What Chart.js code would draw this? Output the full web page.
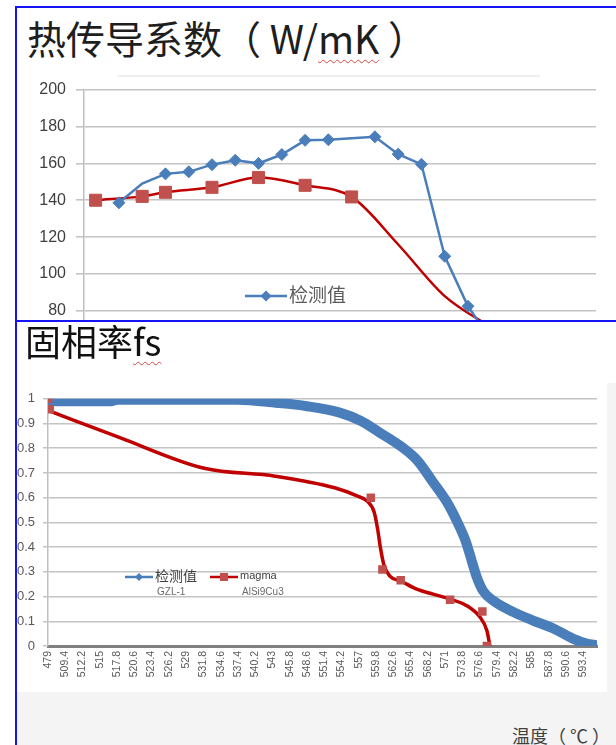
<!DOCTYPE html>
<html>
<head>
<meta charset="utf-8">
<script src="https://cdn.jsdelivr.net/npm/chart.js@4.4.1/dist/chart.umd.min.js"></script>
<style>
  body { margin: 0; width: 616px; height: 745px; position: relative; overflow: hidden; background: #fff;
         font-family: "Noto Sans CJK SC", "Liberation Sans", sans-serif; }
  .abs { position: absolute; }
  .rule { position: absolute; background: #1414f5; z-index: 10; }
  .sq { text-decoration: underline wavy #d84848; text-decoration-thickness: 1px; text-underline-offset: 5px; }
  #topClip { left: 0; top: 0; width: 616px; height: 320px; overflow: hidden; }
  #kChart { left: 18px; top: 70px; }
  #title1 { left: 27px; top: 17px; font-size: 39px; line-height: 40px; color: #1e1e1e; white-space: pre; }
  #edge1 { left: 118px; top: 75px; width: 422px; height: 2px; background: #efefef; }
  #panel2 { left: 0; top: 320px; width: 616px; height: 425px; background: #fff; }
  #shade { left: 17px; top: 383px; width: 599px; height: 362px; background: #f4f4f4; }
  #plotBg { left: 17px; top: 383px; width: 590px; height: 309px; background: #fff; }
  #fsChart { left: 11px; top: 383px; }
  #title2 { left: 25px; top: 321px; font-size: 36px; line-height: 38px; color: #111; white-space: nowrap; }
  #xTitle { left: 512px; top: 725px; font-size: 18px; line-height: 20px; color: #404040; white-space: pre; }
</style>
</head>
<body>
<div id="topClip" class="abs">
  <div id="title1" class="abs">热传导系数（ W/<span class="sq">mK</span> ）</div>
  <div id="edge1" class="abs"></div>
  <canvas id="kChart" class="abs" width="598" height="408"></canvas>
</div>
<div id="panel2" class="abs"></div>
<div id="shade" class="abs"></div>
<div id="plotBg" class="abs"></div>
<canvas id="fsChart" class="abs" width="605" height="309"></canvas>
<div id="title2" class="abs">固相率<span class="sq">fs</span></div>
<div id="xTitle" class="abs">温度（ ℃ ）</div>

<div class="rule" style="left:15px;top:6px;width:601px;height:2px"></div>
<div class="rule" style="left:15px;top:320px;width:601px;height:2px"></div>
<div class="rule" style="left:15px;top:6px;width:2px;height:739px"></div>

<script>
const BLUE = '#4a7ebb';
const RED_LINE = '#c00000';
const RED_MARK = '#c0504d';

// thermal conductivity, W/mK (22 categories, lower part cut off by the panel below)
const kLabels = ['1','2','3','4','5','6','7','8','9','10','11','12','13','14','15','16','17','18','19','20','21','22'];
const kMeasured = [null, 138.6, 149, 154.3, 155.4, 159.3, 161.7, 160, 164.8, 172.5, 172.8, null,
                   174.4, 165, 159.5, 109.6, 82.5, 64, null, null, null, null];
const kMagma = [140, null, 142.1, 144.3, null, 147, null, 152.3, null, 148.1, null, 141.8,
                null, 116, null, 88, null, 71, null, null, null, null];
const kMeasuredNoMarker = [2, 17];
const kMagmaNoMarker = [13, 15, 17];

// solid fraction fs vs temperature; x is the position along the tick labels
const fsTicks = ['479','509.4','512.2','515','517.8','520.6','523.4','526.2','529','531.8','534.6','537.4',
                 '540.2','543','545.8','548.6','551.4','554.2','557','559.8','562.6','565.4','568.2','571',
                 '573.8','576.6','579.4','582.2','585','587.8','590.6','593.4'];
const fsMeasuredX = [0, 3.7, 4.0, 11, 13.2, 15, 16.9, 18.1, 19.2, 20.4, 21.4, 22.3, 23.1, 23.7, 24.2,
                     24.55, 24.85, 25.2, 25.8, 27, 28.1, 29.3, 30.4, 31.2, 31.8];
const fsMeasuredY = [0.99, 0.99, 0.996, 0.996, 0.984, 0.97, 0.944, 0.911, 0.864, 0.81, 0.75, 0.663, 0.583,
                     0.503, 0.423, 0.343, 0.276, 0.223, 0.183, 0.136, 0.103, 0.07, 0.03, 0.01, 0.003];
const fsMagmaX = [0, 4.05, 9.05, 13.15, 16.6, 17.9, 18.5, 18.9, 19.1, 19.25, 19.45, 19.8, 20.43, 21.36,
                  22.3, 23.29, 24.26, 25.03, 25.42, 25.6];
const fsMagmaY = [0.953, 0.846, 0.719, 0.687, 0.64, 0.607, 0.585, 0.54, 0.47, 0.40, 0.33, 0.283, 0.263,
                  0.23, 0.21, 0.19, 0.163, 0.116, 0.063, 0.0];
const fsMagmaMarkX = [0, 0.1, 18.7, 19.37, 20.43, 23.29, 25.16, 25.42];
const fsMagmaMarkY = [1.0, 0.958, 0.60, 0.309, 0.266, 0.187, 0.14, 0.0];

const xy = (xs, ys) => xs.map((x, i) => ({ x, y: ys[i] }));

function marker(ctx, shape, x, y, r) {
  ctx.beginPath();
  if (shape === 'diamond') {
    ctx.moveTo(x, y - r); ctx.lineTo(x + r, y); ctx.lineTo(x, y + r); ctx.lineTo(x - r, y);
    ctx.closePath();
  } else {
    ctx.rect(x - r, y - r, 2 * r, 2 * r);
  }
  ctx.fill();
}

// legend drawn inside the plot, entries placed by hand
const inlineLegend = {
  id: 'inlineLegend',
  afterDraw(chart, args, opts) {
    const ctx = chart.ctx;
    (opts.items || []).forEach(it => {
      ctx.save();
      ctx.strokeStyle = it.line;
      ctx.lineWidth = it.width;
      ctx.beginPath();
      ctx.moveTo(it.x, it.y);
      ctx.lineTo(it.x + it.len, it.y);
      ctx.stroke();
      ctx.fillStyle = it.fill;
      marker(ctx, it.shape, it.x + it.len / 2, it.y, it.r);
      ctx.textBaseline = 'middle';
      ctx.textAlign = 'left';
      ctx.fillStyle = it.color;
      ctx.font = it.font;
      ctx.fillText(it.text, it.x + it.len + 2, it.y - 1);
      if (it.sub) {
        ctx.font = it.subFont;
        ctx.fillStyle = '#6a6a6a';
        ctx.fillText(it.sub, it.x + it.len + 4, it.y + 15);
      }
      ctx.restore();
    });
  }
};

new Chart(document.getElementById('kChart'), {
  type: 'line',
  data: {
    labels: kLabels,
    datasets: [
      {
        label: '检测值', data: kMeasured, spanGaps: true, tension: 0,
        borderColor: BLUE, backgroundColor: BLUE, borderWidth: 2.5,
        pointStyle: 'rectRot', pointBorderWidth: 1,
        pointRadius: c => kMeasuredNoMarker.includes(c.dataIndex) ? 0 : 6
      },
      {
        label: 'magma', data: kMagma, spanGaps: true, cubicInterpolationMode: 'monotone',
        borderColor: RED_LINE, borderWidth: 2.5,
        backgroundColor: RED_MARK, pointBorderColor: RED_MARK,
        pointStyle: 'rect', pointBorderWidth: 1,
        pointRadius: c => kMagmaNoMarker.includes(c.dataIndex) ? 0 : 8.5
      }
    ]
  },
  options: {
    responsive: false,
    animation: false,
    layout: { padding: { top: 10, right: 20, bottom: 0, left: 0 } },
    plugins: {
      legend: { display: false },
      tooltip: { enabled: false },
      inlineLegend: {
        items: [
          { x: 227, y: 226, len: 42, line: BLUE, width: 2.5, fill: BLUE, shape: 'diamond', r: 5.5,
            text: '检测值', color: '#5a5a5a', font: '19px "Noto Sans CJK SC"' }
        ]
      }
    },
    scales: {
      x: { display: false, offset: true },
      y: {
        min: 0, max: 200,
        ticks: { stepSize: 20, padding: 10, color: '#404040', font: { size: 16, family: 'Liberation Sans' } },
        grid: { color: '#c4c4c4', lineWidth: 1.6, tickLength: 8 },
        border: { color: '#bfbfbf', width: 1.5 },
        afterFit: s => { s.width = 66; }
      }
    }
  },
  plugins: [inlineLegend]
});

new Chart(document.getElementById('fsChart'), {
  type: 'line',
  data: {
    datasets: [
      {
        label: 'magma', data: xy(fsMagmaMarkX, fsMagmaMarkY), showLine: false,
        pointStyle: 'rect', pointRadius: 6, pointBorderWidth: 0,
        backgroundColor: RED_MARK, borderColor: RED_MARK
      },
      {
        label: 'magma', data: xy(fsMagmaX, fsMagmaY), cubicInterpolationMode: 'monotone',
        borderColor: RED_LINE, borderWidth: 3.5, pointRadius: 0
      },
      {
        label: '检测值', data: xy(fsMeasuredX, fsMeasuredY), cubicInterpolationMode: 'monotone',
        borderColor: BLUE, borderWidth: 10, borderCapStyle: 'round', borderJoinStyle: 'round', pointRadius: 0
      }
    ]
  },
  options: {
    responsive: false,
    animation: false,
    layout: { padding: { top: 11, right: 19, bottom: 0, left: 0 } },
    plugins: {
      legend: { display: false },
      tooltip: { enabled: false },
      inlineLegend: {
        items: [
          { x: 114, y: 194, len: 28, line: BLUE, width: 2.5, fill: BLUE, shape: 'diamond', r: 4,
            text: '检测值', color: '#404040', font: '14px "Noto Sans CJK SC"',
            sub: 'GZL-1', subFont: '10px "Liberation Sans"' },
          { x: 199, y: 194, len: 28, line: RED_LINE, width: 2.5, fill: RED_MARK, shape: 'square', r: 4,
            text: 'magma', color: '#404040', font: '11px "Liberation Sans"',
            sub: 'AlSi9Cu3', subFont: '10px "Liberation Sans"' }
        ]
      }
    },
    scales: {
      x: {
        type: 'linear', min: 0, max: 31.8,
        afterBuildTicks: s => { s.ticks = fsTicks.map((_, i) => ({ value: i })); },
        ticks: { autoSkip: false, maxRotation: 90, minRotation: 90, padding: 5, color: '#595959',
                 font: { size: 10.5, family: 'Liberation Sans' }, callback: v => fsTicks[v] },
        grid: { display: false, drawTicks: false },
        border: { color: '#7f7f7f', width: 3 },
        afterFit: s => { s.height = 46; }
      },
      y: {
        min: 0, max: 1,
        ticks: { stepSize: 0.1, padding: 8, color: '#595959', font: { size: 13, family: 'Liberation Sans' },
                 callback: v => String(Math.round(v * 10) / 10) },
        grid: { color: '#c4c4c4', lineWidth: 1.5, tickLength: 5 },
        border: { color: '#bfbfbf', width: 1.5 },
        afterFit: s => { s.width = 37; }
      }
    }
  },
  plugins: [inlineLegend]
});
</script>
</body>
</html>
